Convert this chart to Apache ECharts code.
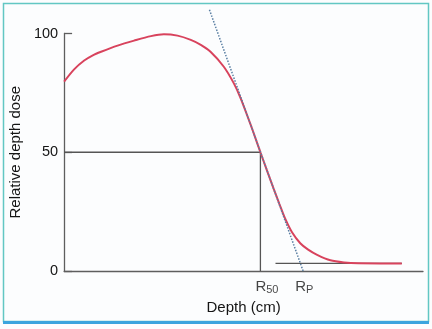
<!DOCTYPE html>
<html>
<head>
<meta charset="utf-8">
<script src="https://cdn.jsdelivr.net/npm/echarts@6/dist/echarts.min.js"></script>
<style>
  html, body { margin: 0; padding: 0; background: #ffffff; }
  #chart { width: 432px; height: 329px; }
</style>
</head>
<body>
<div id="chart"></div>
<script>
// Electron beam percentage depth dose curve
const depthCm = [0, 0.28, 0.56, 0.80, 1.03, 1.49, 1.95, 2.42, 2.78, 3.16, 3.53, 3.81, 4.08, 4.45, 4.73, 4.92, 5.20, 5.47, 5.84, 6.00, 6.17, 6.35, 6.58, 6.80, 7.05, 7.42, 7.80, 8.20, 8.80, 9.41];
const relDose = [79.7, 84.9, 88.6, 90.8, 92.3, 94.9, 97.0, 98.9, 99.7, 99.1, 97.3, 95.2, 92.3, 86.0, 79.0, 72.7, 61.5, 50.0, 34.6, 28.2, 21.7, 16.3, 11.7, 9.0, 6.8, 4.5, 3.6, 3.25, 3.2, 3.2];

// Characteristic depths
const R50 = 5.47;
const Rp = 6.58;
const bremsLevel = 3.2;

// Tangent through the steepest part of the falloff
const tangentX = [4.05, 6.66];
const tangentY = [110, 0];

// Bremsstrahlung tail reference
const tailX = [5.89, 9.41];

const yTicks = [0, 50, 100];

const FONT = '"Liberation Sans", Arial, Helvetica, sans-serif';
const INK = '#151515';
const chart = echarts.init(document.getElementById('chart'));

const curve = depthCm.map((d, i) => [d, relDose[i]]);

chart.setOption({
  backgroundColor: '#fcfdfe',
  animation: false,
  grid: { left: 63, right: 9, top: 33.5, bottom: 58 },
  graphic: [
    { type: 'rect', z: -1, shape: { x: 3.5, y: 3.5, width: 425, height: 318 },
      style: { fill: 'none', stroke: '#62c7c3', lineWidth: 1.5 } },
    { type: 'rect', z: -1, shape: { x: 3, y: 321, width: 426, height: 3 },
      style: { fill: '#3ba5de' } }
  ],
  xAxis: {
    type: 'value', min: 0, max: 10,
    name: 'Depth (cm)', nameLocation: 'middle', nameGap: 29,
    nameTextStyle: { fontFamily: FONT, fontSize: 15, color: INK },
    axisLine: { show: true, lineStyle: { color: '#5e5e5e', width: 1.3 } },
    axisTick: { show: false }, axisLabel: { show: false }, splitLine: { show: false }
  },
  yAxis: {
    type: 'value', min: yTicks[0], max: yTicks[yTicks.length - 1], interval: 50,
    name: 'Relative depth dose', nameLocation: 'middle', nameRotate: 90, nameGap: 36,
    nameTextStyle: { fontFamily: FONT, fontSize: 15, color: INK },
    axisLine: { show: true, lineStyle: { color: '#5e5e5e', width: 1.3 } },
    axisTick: { show: true, inside: true, length: 8, lineStyle: { color: '#5e5e5e', width: 1.3 } },
    axisLabel: { fontFamily: FONT, fontSize: 14.5, color: INK, margin: 6 },
    splitLine: { show: false }
  },
  series: [
    {
      type: 'line', name: 'R50 guide', symbol: 'none', silent: true,
      data: [[0, 50], [R50, 50], [R50, 0]],
      lineStyle: { color: '#555555', width: 1.3 }, z: 2
    },
    {
      type: 'line', name: 'tail', symbol: 'none', silent: true,
      data: [[tailX[0], bremsLevel], [tailX[1], bremsLevel]],
      lineStyle: { color: '#555555', width: 1.3 }, z: 2
    },
    {
      type: 'line', name: 'dose', symbol: 'none', smooth: 0.3, silent: true,
      data: curve,
      lineStyle: { color: '#d8435d', width: 2 }, z: 3
    },
    {
      type: 'line', name: 'tangent', symbol: 'none', clip: false, silent: true,
      data: [[tangentX[0], tangentY[0]], [tangentX[1], tangentY[1]]],
      lineStyle: { color: '#5a7fa3', width: 1.5, type: [1.5, 1.5] }, z: 4
    },
    {
      type: 'scatter', symbolSize: 0, silent: true,
      data: [
        { value: [R50, 0], label: { formatter: '{r|R}{s|50}' } },
        { value: [Rp, 0], label: { formatter: '{r|R}{s|P}' } }
      ],
      label: {
        show: true, position: 'bottom', align: 'left', distance: 7, offset: [-5, 0],
        rich: {
          r: { fontFamily: FONT, fontSize: 15, color: INK },
          s: { fontFamily: FONT, fontSize: 11, color: INK, padding: [6, 0, 0, 0] }
        }
      }
    }
  ]
});
</script>
</body>
</html>
